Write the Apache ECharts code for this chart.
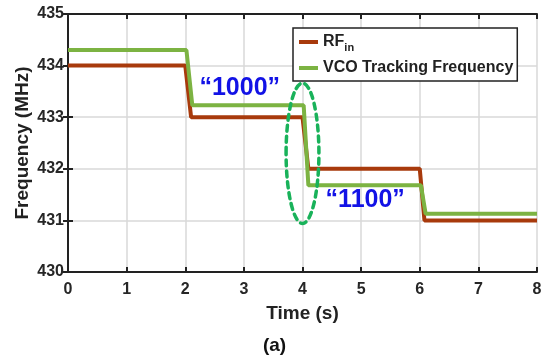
<!DOCTYPE html>
<html>
<head>
<meta charset="utf-8">
<script src="https://cdn.jsdelivr.net/npm/echarts@6/dist/echarts.min.js"></script>
<style>
  html, body { margin: 0; padding: 0; background: #fff; }
  #chart { width: 549px; height: 359px; }
</style>
</head>
<body>
<div id="chart"></div>
<script>
// Step response: input RF frequency vs. VCO tracking frequency (MHz over seconds)
const timeRF   = [0, 2, 2.1, 4, 4.1, 6, 6.08, 8];
const freqRF   = [434, 434, 433, 433, 432, 432, 431, 431];
const timeVCO  = [0, 2.02, 2.12, 4.02, 4.1, 6.02, 6.1, 8];
const freqVCO  = [434.3, 434.3, 433.23, 433.23, 431.68, 431.68, 431.13, 431.13];

const xTicks = [0, 1, 2, 3, 4, 5, 6, 7, 8];
const yTicks = [430, 431, 432, 433, 434, 435];

// Code-word annotations: [time, frequency, text]
const codeLabels = [
  [2.93, 433.56, '\u201C1000\u201D'],
  [5.07, 431.39, '\u201C1100\u201D']
];
// Highlighted transition (centre time, centre freq, half-width s, half-height MHz)
const focusRegion = [4.0, 432.3, 0.28, 1.36];

const FONT = 'Arial, "Liberation Sans", Helvetica, sans-serif';
const RED = '#a83a0c';
const GREEN = '#7cb342';

const pairs = (xs, ys) => xs.map((x, i) => [x, ys[i]]);

const chart = echarts.init(document.getElementById('chart'), null, { renderer: 'canvas' });

const axisLine = { show: true, lineStyle: { color: '#222', width: 2 } };
const tickIn = { show: true, inside: true, length: 5, lineStyle: { color: '#222', width: 2 } };
const grid = { show: true, lineStyle: { color: '#d9d9d9', width: 1.5 } };

chart.setOption({
  animation: false,
  backgroundColor: '#fff',
  grid: { left: 68, right: 12, top: 14, bottom: 87, containLabel: false, outerBoundsMode: 'none' },
  legend: {
    orient: 'vertical',
    left: 293, top: 28,
    padding: [6, 4, 5, 6],
    itemGap: 7,
    itemWidth: 19, itemHeight: 4,
    backgroundColor: '#fff',
    borderColor: '#222', borderWidth: 1.5, borderRadius: 0,
    icon: 'rect',
    data: ['RF', 'VCO Tracking Frequency'],
    formatter: function (name) {
      return name === 'RF' ? '{m|RF}{s|in}' : '{m|' + name + '}';
    },
    textStyle: {
      rich: {
        m: { fontFamily: FONT, fontWeight: 'bold', fontSize: 16, color: '#222' },
        s: { fontFamily: FONT, fontWeight: 'bold', fontSize: 11, color: '#222', verticalAlign: 'bottom', padding: [11, 0, 0, 0] }
      }
    }
  },
  xAxis: [
    {
      type: 'value', min: 0, max: 8, interval: 1, position: 'bottom',
      name: 'Time (s)', nameLocation: 'middle', nameGap: 32, nameMoveOverlap: false,
      nameTextStyle: { fontFamily: FONT, fontWeight: 'bold', fontSize: 19, color: '#222' },
      axisLine: axisLine, axisTick: tickIn, splitLine: grid,
      axisLabel: { fontFamily: FONT, fontWeight: 'bold', fontSize: 16, color: '#262626', margin: 10,
        formatter: v => xTicks.includes(v) ? String(v) : '' }
    },
    {
      type: 'value', min: 0, max: 8, interval: 1, position: 'top',
      axisLine: axisLine, axisTick: tickIn, splitLine: { show: false }, axisLabel: { show: false }
    }
  ],
  yAxis: [
    {
      type: 'value', min: 430, max: 435, interval: 1, position: 'left',
      name: 'Frequency (MHz)', nameLocation: 'middle', nameGap: 36, nameRotate: 90, nameMoveOverlap: false,
      nameTextStyle: { fontFamily: FONT, fontWeight: 'bold', fontSize: 19, color: '#222' },
      axisLine: axisLine, axisTick: tickIn, splitLine: grid,
      axisLabel: { fontFamily: FONT, fontWeight: 'bold', fontSize: 16, color: '#262626', margin: 4,
        formatter: v => yTicks.includes(v) ? String(v) : '' }
    },
    {
      type: 'value', min: 430, max: 435, interval: 1, position: 'right',
      axisLine: axisLine, axisTick: tickIn, splitLine: { show: false }, axisLabel: { show: false }
    }
  ],
  series: [
    {
      name: 'RF', type: 'line', data: pairs(timeRF, freqRF),
      showSymbol: false, color: RED, lineStyle: { color: RED, width: 4 }, z: 3
    },
    {
      name: 'VCO Tracking Frequency', type: 'line', data: pairs(timeVCO, freqVCO),
      showSymbol: false, color: GREEN, lineStyle: { color: GREEN, width: 4 }, z: 4
    }
  ]
});

// Place annotations in data space via the axes
function placeAnnotations() {
  const texts = codeLabels.map(([t, f, s]) => {
    const p = chart.convertToPixel({ xAxisIndex: 0, yAxisIndex: 0 }, [t, f]);
    return {
      type: 'text', x: p[0], y: p[1], z: 20,
      style: { text: s, fill: '#1212e6', font: 'bold 25px ' + FONT, align: 'center', verticalAlign: 'middle' }
    };
  });
  const [ct, cf, dt, df] = focusRegion;
  const c = chart.convertToPixel({ xAxisIndex: 0, yAxisIndex: 0 }, [ct, cf]);
  const e = chart.convertToPixel({ xAxisIndex: 0, yAxisIndex: 0 }, [ct + dt, cf + df]);
  const ellipse = {
    type: 'ellipse', z: 20,
    shape: { cx: c[0], cy: c[1], rx: Math.abs(e[0] - c[0]), ry: Math.abs(c[1] - e[1]) },
    style: { fill: 'none', stroke: '#19b25a', lineWidth: 3.5, lineDash: [6, 5], lineCap: 'round' }
  };
  const caption = {
    type: 'text', x: 274.5, y: 346, z: 20,
    style: { text: '(a)', fill: '#111', font: 'bold 19px ' + FONT, align: 'center', verticalAlign: 'middle' }
  };
  chart.setOption({ graphic: texts.concat([ellipse, caption]) });
}
placeAnnotations();
</script>
</body>
</html>
